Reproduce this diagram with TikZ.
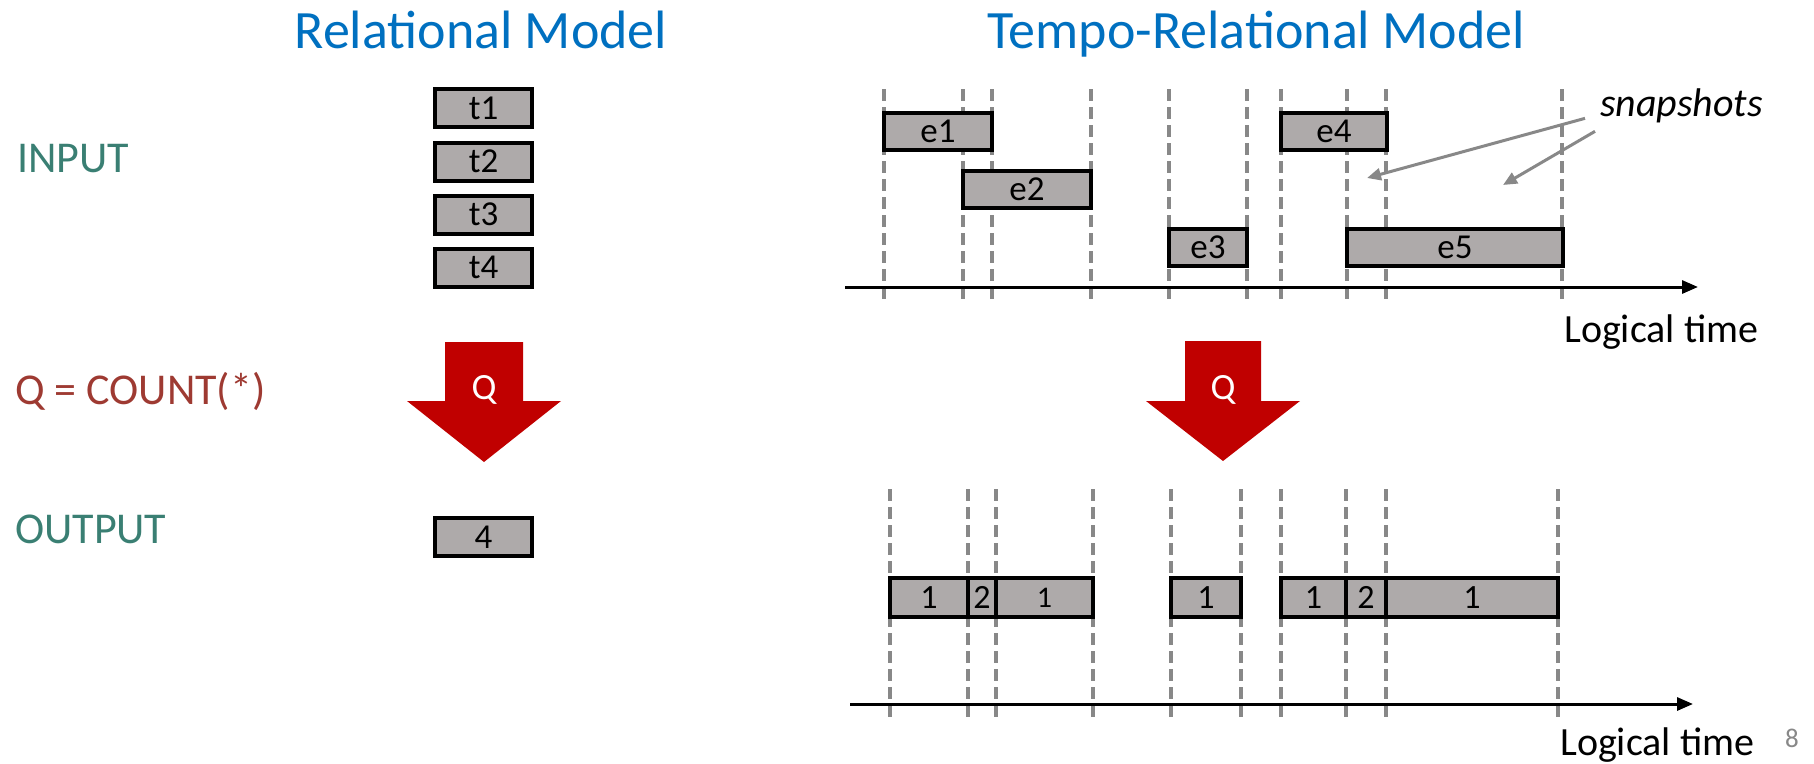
\documentclass[tikz,border=0pt]{standalone}
\usepackage{fontspec}
\setmainfont{Carlito}
\usetikzlibrary{arrows.meta,calc}
\definecolor{titleblue}{HTML}{0070C0}
\definecolor{labelteal}{RGB}{58,127,115}
\definecolor{labelred}{RGB}{158,58,50}
\definecolor{boxgray}{HTML}{AEAAAA}
\definecolor{guidegray}{HTML}{888888}
\definecolor{qred}{HTML}{C00000}
\newcommand{\fsz}[1]{\fontsize{#1}{#1}\selectfont}

\begin{document}
\begin{tikzpicture}[x=1pt,y=-1pt,
  title/.style={anchor=base,inner sep=0pt,text=titleblue,font=\fsz{54}},
  rowlabel/.style={anchor=base west,inner sep=0pt,font=\fsz{44}},
  cell/.style={draw=black,fill=boxgray,line width=4pt,inner sep=0pt,font=\fsz{35}},
  tuple/.style={cell,minimum width=97pt,minimum height=38pt},
  event/.style={cell,minimum height=37pt},
  agg/.style={cell,minimum height=39pt,font=\fsz{34}},
  guide/.style={draw=guidegray,line width=4pt,dash pattern=on 12pt off 6pt},
  timeaxis/.style={draw=black,line width=3pt,-{Triangle[length=16pt,width=13pt]}},
  axislabel/.style={anchor=base west,inner sep=0pt,font=\fsz{40}},
  pointer/.style={draw=guidegray,line width=3pt,-{Triangle[length=14pt,width=12pt]}},
  qarrow/.style={fill=qred,draw=none},
  qtext/.style={text=white,inner sep=0pt,font=\fsz{37}}
]
\useasboundingbox (0,0) rectangle (1814,763);

% column titles
\node[title] (relTitle) at (481,48) {Relational Model};
\node[title] (tempoTitle) at (1256,48) {Tempo-Relational Model};

% row labels
\node[rowlabel,text=labelteal] (input) at (17,172) {INPUT};
\node[rowlabel,text=labelred] (query) at (15,404) {Q = COUNT(*)};
\node[rowlabel,text=labelteal] (output) at (15,543) {OUTPUT};

% relational model: input tuples, query, result
\node[tuple] (t1) at (483.5,108) {t1};
\node[tuple] (t2) at (483.5,161.5) {t2};
\node[tuple] (t3) at (483.5,214.5) {t3};
\node[tuple] (t4) at (483.5,267.5) {t4};

\fill[qarrow] (445,342) -- (523,342) -- (523,401) -- (561,401) -- (484,462)
  -- (407,401) -- (445,401) -- cycle;
\node[qtext] (qL) at (484,390) {Q};

\node[tuple] (res) at (483.5,537) {4};

% tempo-relational input: snapshot boundaries
\foreach \x in {884,963,992,1091,1169,1247,1281,1347,1386,1562}
  \draw[guide] (\x,89) -- (\x,302);

\node[event,minimum width=108pt] (e1) at (938,131) {e1};
\node[event,minimum width=128pt] (e2) at (1027,189.5) {e2};
\node[event,minimum width=78pt] (e3) at (1208,247.5) {e3};
\node[event,minimum width=106pt] (e4) at (1334,131) {e4};
\node[event,minimum width=216pt] (e5) at (1455,247.5) {e5};

\coordinate (topAxisStart) at (845,287);
\coordinate (topAxisEnd) at (1698,287);
\draw[timeaxis] (topAxisStart) -- (topAxisEnd);
\node[axislabel] (topTime) at (1564,342) {Logical time};

% snapshot callout
\node[anchor=base west,inner sep=0pt,font=\fsz{40}\itshape] (snap) at (1600,116) {snapshots};
\coordinate (snapA) at (1367,178);
\coordinate (snapB) at (1503,185);
\draw[pointer] ($(snap.west)+(-15,13)$) -- (snapA);
\draw[pointer] ($(snap.west)+(-5,26)$) -- (snapB);

% tempo-relational query
\fill[qarrow] (1185,341) -- (1261,341) -- (1261,401) -- (1300,401) -- (1223,461)
  -- (1146,401) -- (1185,401) -- cycle;
\node[qtext] (qR) at (1223,390) {Q};

% tempo-relational output: per-snapshot counts
\foreach \x in {890,968,996,1093,1171,1241,1281,1346,1386,1558}
  \draw[guide] (\x,489) -- (\x,720);

\node[agg,minimum width=78pt] (c1) at (929,597.5) {1};
\node[agg,minimum width=28pt] (c2) at (982,597.5) {2};
\node[agg,minimum width=97pt,font=\fsz{30}] (c3) at (1044.5,597.5) {1};
\node[agg,minimum width=70pt] (c4) at (1206,597.5) {1};
\node[agg,minimum width=65pt] (c5) at (1313.5,597.5) {1};
\node[agg,minimum width=40pt] (c6) at (1366,597.5) {2};
\node[agg,minimum width=172pt] (c7) at (1472,597.5) {1};

\coordinate (botAxisStart) at (850,704);
\coordinate (botAxisEnd) at (1693,704);
\draw[timeaxis] (botAxisStart) -- (botAxisEnd);
\node[axislabel] (botTime) at (1560,755) {Logical time};

% page number
\node[anchor=base west,inner sep=0pt,text=guidegray,font=\fsz{27}] (pageNo) at (1785,747) {8};
\end{tikzpicture}
\end{document}
